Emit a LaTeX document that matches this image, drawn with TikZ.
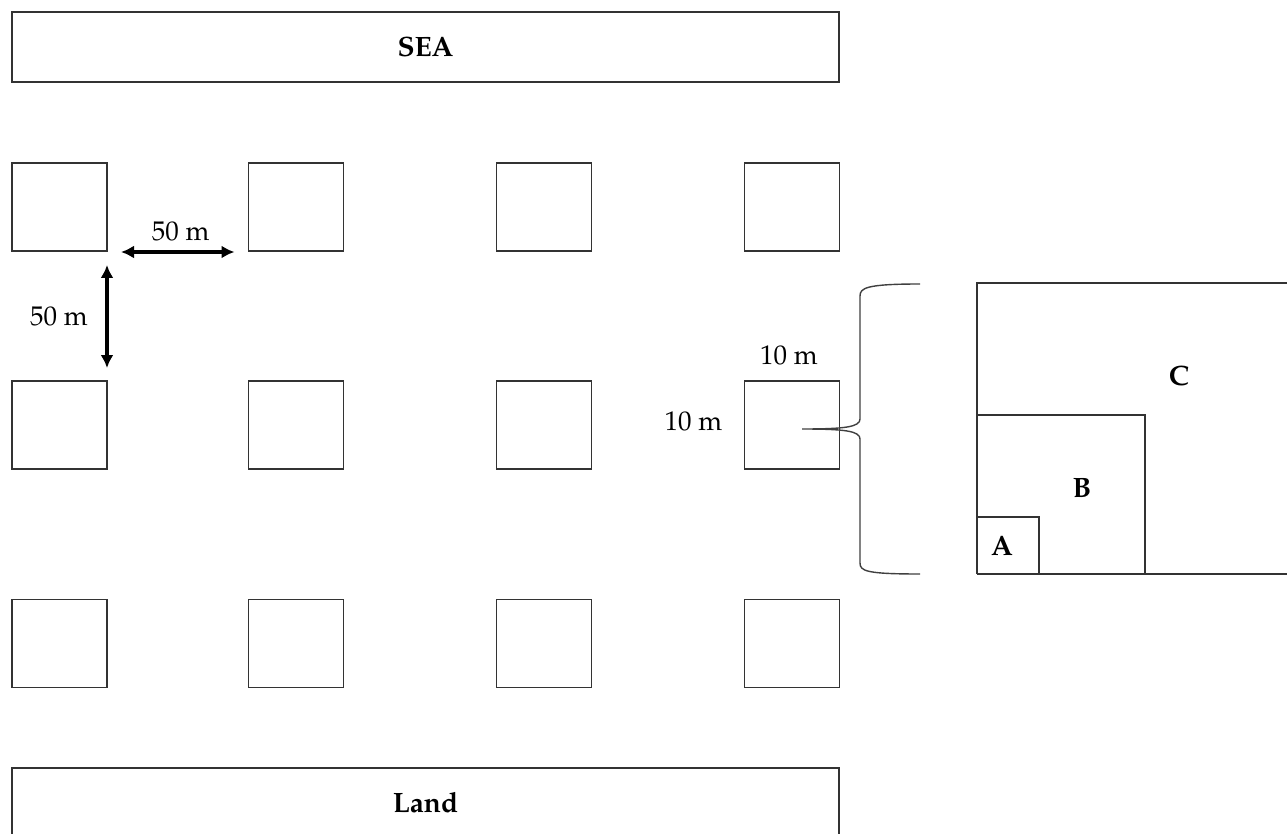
\documentclass[tikz,border=0pt]{standalone}
\usepackage[T1]{fontenc}
\usepackage{mathpazo}
\usetikzlibrary{arrows.meta,calc}
\begin{document}
\begin{tikzpicture}[x=1pt,y=-1pt,
  every node/.style={inner sep=0pt,outer sep=0pt},
  box/.style={draw=black!80,line width=1.2pt},
  plot/.style={box,minimum width=95pt,minimum height=88pt},
  lbl/.style={font=\fontsize{27}{30}\selectfont},
  blbl/.style={font=\fontsize{28}{30}\selectfont\bfseries},
  dim/.style={line width=3.6pt,{Latex[length=13pt,width=13pt]}-{Latex[length=13pt,width=13pt]}},
  bracestyle/.style={draw=black!75,line width=1.4pt}]
\useasboundingbox (0,0) rectangle (1287,834);
\clip (0,0) rectangle (1287,834);
\fill[white] (0,0) rectangle (1287,834);

% sea and land strips
\node[box,minimum width=827pt,minimum height=70pt] (sea) at (425.5,47) {};
\node[blbl] at (sea.center) {SEA};
\draw[box] (12,860) |- (839,768) -- (839,860);
\coordinate (landc) at (425.5,803);
\node[blbl] (land) at (landc) {Land};

% grid of sample plots
\foreach \c/\x in {1/59.5,2/296,3/544,4/792}{
  \foreach \r/\y in {1/207,2/425,3/643.5}{
    \node[plot] (p\r\c) at (\x,\y) {};
  }
}

% spacing between plots
\coordinate (hL) at ($(p11.south east)+(14,1)$);
\coordinate (hR) at ($(p12.south west)+(-14,1)$);
\draw[dim] (hL) -- (hR);
\node[lbl] at ($(hL)!0.5!(hR)+(3,-21)$) {50 m};
\coordinate (vT) at ($(p11.south east)+(0,14)$);
\coordinate (vB) at ($(p21.north east)+(0,-13)$);
\draw[dim] (vT) -- (vB);
\node[lbl] at ($(vT)!0.5!(vB)+(-48,0)$) {50 m};

% plot size labels
\node[lbl] at ($(p24.north)+(-3,-26)$) {10 m};
\node[lbl] at ($(p24.west)+(-51,-4)$) {10 m};

% nested subplots
\draw[box] (977,574) |- (1300,283);
\draw[box] (977,574) -- (1300,574);
\draw[box] (977,415) -| (1145,574);
\draw[box] (977,517) -| (1039,574);
\node[blbl] (C) at (1179,376) {C};
\node[blbl] (B) at (1082,488) {B};
\node[blbl] (A) at (1002,546) {A};

% brace from the plot to the enlarged view
\coordinate (tip) at (802,429);
\draw[bracestyle] (920,284) .. controls (866,284) and (860,288) .. (860,296)
  -- (860,419) .. controls (860,427) and (845,429) .. (tip)
  .. controls (845,429) and (860,431) .. (860,439)
  -- (860,563) .. controls (860,571) and (866,574) .. (920,574);
\end{tikzpicture}
\end{document}
